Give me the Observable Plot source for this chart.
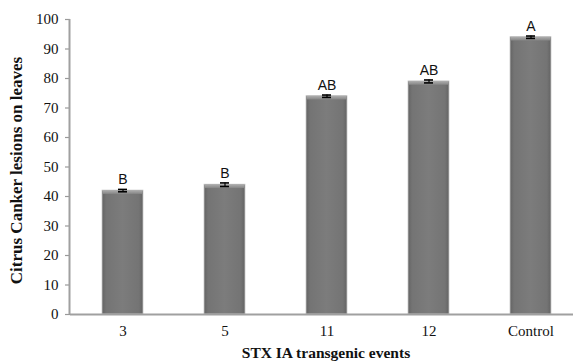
<!DOCTYPE html>
<html><head><meta charset="utf-8">
<script src="https://cdn.jsdelivr.net/npm/d3@7"></script>
<script src="https://cdn.jsdelivr.net/npm/@observablehq/plot@0.6"></script>
<style>
html,body{margin:0;padding:0;background:#fff;}
#chart{width:573px;height:362px;overflow:hidden;}
</style></head>
<body><div id="chart"></div>
<script>
const categories = ["3", "5", "11", "12", "Control"];
const values = [42, 44, 74, 79, 94];
const errors = [0.4, 0.6, 0.4, 0.5, 0.4];
const letters = ["B", "B", "AB", "AB", "A"];
const yTicks = [0, 10, 20, 30, 40, 50, 60, 70, 80, 90, 100];

const data = categories.map((c, i) => ({cat: c, v: values[i], e: errors[i], lab: letters[i]}));
const serif = "'Liberation Serif', 'Times New Roman', serif";

const plot = Plot.plot({
  width: 573,
  height: 362,
  marginLeft: 70,
  marginRight: 0,
  marginTop: 19,
  marginBottom: 48,
  style: {fontFamily: serif, fontSize: "15px", color: "#111", background: "#fff"},
  x: {domain: categories, range: [70, 583], paddingInner: 0.6, paddingOuter: 0.3, label: null},
  y: {domain: [0, 100], range: [314, 19], label: null},
  marks: [
    Plot.barY(data, {x: "cat", y: "v", fill: "url(#barGrad)", stroke: "#c8c8c8", strokeWidth: 0.8}),
    Plot.rectY(data, {x: "cat", y1: d => d.v - 1.3, y2: d => d.v, fill: "url(#capGrad)", insetLeft: 0.5, insetRight: 0.5}),
    Plot.ruleX(data, {x: "cat", y1: d => d.v - d.e, y2: d => d.v + d.e, stroke: "#000", strokeWidth: 1.2}),
    Plot.tickY(data, {x: "cat", y: d => d.v + d.e, stroke: "#000", strokeWidth: 1.6, inset: 16}),
    Plot.tickY(data, {x: "cat", y: d => d.v - d.e, stroke: "#000", strokeWidth: 1.6, inset: 16}),
    Plot.text(data, {x: "cat", y: d => d.v + d.e, text: "lab", lineAnchor: "bottom", dy: -5, fontFamily: "'Liberation Sans', Arial, sans-serif", fontSize: 14, fill: "#111"}),
    Plot.ruleY([0], {stroke: "#a0a0a0", strokeWidth: 2}),
    Plot.axisX({tickSize: 0, tickPadding: 11, label: null}),
    Plot.axisY({ticks: yTicks, tickSize: 5, tickPadding: 7, stroke: "#999", strokeWidth: 1.2, label: null})
  ]
});

const svg = d3.select(plot);
const defs = svg.insert("defs", ":first-child");
const g = defs.append("linearGradient").attr("id", "barGrad").attr("x1", "0").attr("x2", "1").attr("y1", "0").attr("y2", "0");
g.append("stop").attr("offset", "0%").attr("stop-color", "#636363");
g.append("stop").attr("offset", "10%").attr("stop-color", "#747474");
g.append("stop").attr("offset", "50%").attr("stop-color", "#7c7c7c");
g.append("stop").attr("offset", "90%").attr("stop-color", "#747474");
g.append("stop").attr("offset", "100%").attr("stop-color", "#636363");
const c = defs.append("linearGradient").attr("id", "capGrad").attr("x1", "0").attr("x2", "0").attr("y1", "0").attr("y2", "1");
c.append("stop").attr("offset", "0%").attr("stop-color", "#b0b0b0");
c.append("stop").attr("offset", "100%").attr("stop-color", "#858585");

svg.selectAll("g[aria-label='x-axis tick label'] text, g[aria-label='y-axis tick label'] text")
  .style("font-family", serif).style("font-size", "15px").style("fill", "#111");

const yScale = plot.scale("y");
svg.append("line").attr("x1", 69.5).attr("x2", 69.5).attr("y1", yScale.apply(100)).attr("y2", yScale.apply(0)).attr("stroke", "#a0a0a0").attr("stroke-width", 2);

svg.append("text").attr("transform", `translate(22,${(yScale.apply(0)+yScale.apply(100))/2 + 4}) rotate(-90)`)
  .attr("text-anchor", "middle").attr("font-weight", "bold").style("font-size", "17px")
  .style("font-family", serif).attr("fill", "#111")
  .text("Citrus Canker lesions on leaves");
svg.append("text").attr("x", 326).attr("y", 358)
  .attr("text-anchor", "middle").attr("font-weight", "bold").style("font-size", "15.5px")
  .style("font-family", serif).attr("fill", "#111")
  .text("STX IA transgenic events");

document.getElementById("chart").appendChild(plot);
</script>
</body></html>
